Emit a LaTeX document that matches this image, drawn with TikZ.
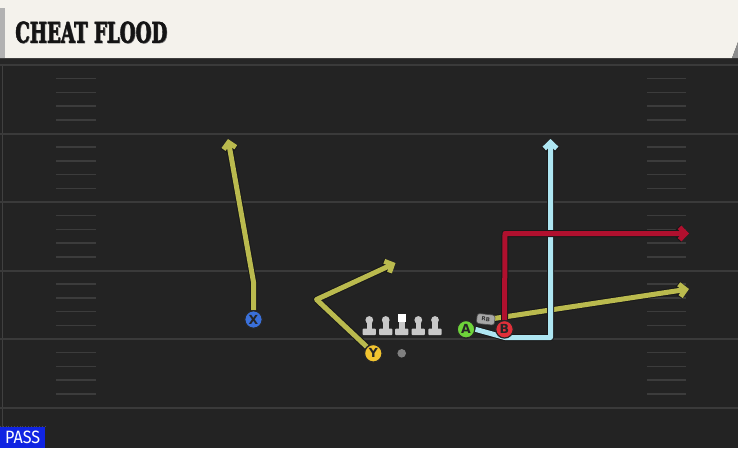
\documentclass[tikz,border=0pt]{standalone}
\usepackage{fontspec}
\usepackage{graphicx}
\usetikzlibrary{arrows.meta}
\newfontfamily\titlefont[FakeBold=2]{DejaVu Serif}
\newfontfamily\labfont{DejaVu Sans}
\newfontfamily\passfont{Fira Sans}
\definecolor{field}{RGB}{35,35,35}
\definecolor{fieldline}{RGB}{58,58,58}
\definecolor{hashc}{RGB}{60,60,60}
\definecolor{cream}{RGB}{244,242,236}
\definecolor{rtyellow}{RGB}{186,186,78}
\definecolor{rtblue}{RGB}{174,230,242}
\definecolor{rtred}{RGB}{176,16,46}
\definecolor{pX}{RGB}{58,112,218}
\definecolor{pY}{RGB}{242,196,48}
\definecolor{pA}{RGB}{110,212,58}
\definecolor{pB}{RGB}{224,48,58}
\definecolor{olgray}{RGB}{200,200,200}
\definecolor{passblue}{RGB}{16,36,226}
\tikzset{
  routebg/.style={line width=7pt, draw=black!90, line join=round,
    -{Straight Barb[length=6pt,width=12.5pt]}},
  route/.style={line width=5pt, line join=round,
    -{Straight Barb[length=6pt,width=12.5pt]}},
  player/.style={circle, draw=black!85, line width=1.2pt, minimum size=17.5pt,
    inner sep=0pt, font=\labfont\bfseries\fontsize{12.5}{12.5}\selectfont, text=black!85},
  lineman/.style={fill=olgray},
  yardline/.style={draw=fieldline, line width=2pt},
  hashmark/.style={draw=hashc, line width=1.5pt},
}
\newcommand\rte[2]{\draw[routebg] #2; \draw[route,#1] #2;}
\begin{document}
\begin{tikzpicture}[x=1pt,y=-1pt]
\useasboundingbox (0,0) rectangle (738,448);
% field
\fill[field] (0,0) rectangle (738,448);
\fill[black!85] (0,58) rectangle (738,64);
\draw[black!75, line width=0.8pt] (2.5,64) -- (2.5,448);
% yard lines
\foreach \y in {65,133.5,202,270.5,339,407.5}
  \draw[yardline] (0,\y) -- (738,\y);
% hash marks
\foreach \b in {65,133.5,202,270.5,339}
  \foreach \k in {1,2,3,4} {
    \draw[hashmark] (56,\b+13.7*\k) -- (96,\b+13.7*\k);
    \draw[hashmark] (647,\b+13.7*\k) -- (686,\b+13.7*\k);
  }
% header
\fill[cream] (0,0) -- (738,0) -- (738,42) -- (732,58) -- (0,58) -- cycle;
\fill[black!30] (0,8) rectangle (4.5,58);
\fill[black!45] (738,42) -- (732,58) -- (738,58) -- cycle;
\node[anchor=west, inner sep=0pt, text=black!55] at (15.6,32.8)
  {\resizebox{152pt}{21pt}{\titlefont\bfseries CHEAT FLOOD}};
\node[anchor=west, inner sep=0pt, text=black!92] (title) at (15,32.2)
  {\resizebox{152pt}{21pt}{\titlefont\bfseries CHEAT FLOOD}};
% PASS tag
\node[anchor=south west, fill=passblue, minimum width=45pt, minimum height=21pt,
  inner sep=0pt, text=white] (pass) at (0,448)
  {\resizebox{35pt}{12.5pt}{\passfont PASS}};
\draw[black!70, dotted, line width=0.8pt] (pass.north west) -- (pass.north east);
% coordinates
\coordinate (xturn) at (253.5,282);
\coordinate (xend) at (228,139);
\coordinate (yturn) at (316.5,299.5);
\coordinate (yend) at (395.5,263);
\coordinate (aturn) at (505,337.5);
\coordinate (acorner) at (550.5,337.5);
\coordinate (aend) at (550.5,139);
\coordinate (bturn) at (505,233.5);
\coordinate (bend) at (689,233.5);
\coordinate (rbstart) at (494,318.5);
\coordinate (rbend) at (689,289);
% player nodes (placed first for names)
\path (253.5,319.5) node[player, fill=pX] (X) {X};
\path (373.3,353.3) node[player, fill=pY] (Y) {Y};
\path (466,329.3) node[player, fill=pA] (A) {A};
\path (504.5,329.3) node[player, fill=pB] (B) {B};
% routes
\rte{rtyellow}{(X.north) -- (xturn) -- (xend)}
\rte{rtyellow}{(Y.north west) -- (yturn) -- (yend)}
\rte{rtyellow}{(rbstart) -- (rbend)}
\rte{rtblue}{(A.east) -- (aturn) -- (acorner) -- (aend)}
\rte{rtred}{(B.north) -- (bturn) -- (bend)}
% linemen
\foreach \x in {369.3,385.7,418.3,435} {
  \fill[lineman] (\x,320) circle (3.9);
  \fill[lineman] (\x-2.8,321) rectangle (\x+2.8,330);
  \fill[lineman, rounded corners=1pt] (\x-6.6,328.5) rectangle (\x+6.6,335.2);
}
\fill[white] (397.5,314) rectangle (405.9,322.4);
\fill[lineman] (398.9,322.4) rectangle (404.5,330);
\fill[lineman, rounded corners=1pt] (395.1,328.5) rectangle (408.3,335.2);
% QB
\fill[black!50] (401.7,353.3) circle (4.3);
% players redrawn on top
\node[player, fill=pX] at (X) {X};
\node[player, fill=pY] at (Y) {Y};
\node[player, fill=pA] at (A) {A};
\node[player, fill=pB] at (B) {B};
% RB badge
\node[fill=black!35, draw=black!70, line width=0.6pt, rounded corners=2.5pt,
  minimum width=18pt, minimum height=10pt, inner sep=0pt, rotate=-6,
  font=\labfont\bfseries\fontsize{5.5}{5.5}\selectfont, text=black!80] (rb) at (485.8,319.3) {RB};
\end{tikzpicture}
\end{document}
